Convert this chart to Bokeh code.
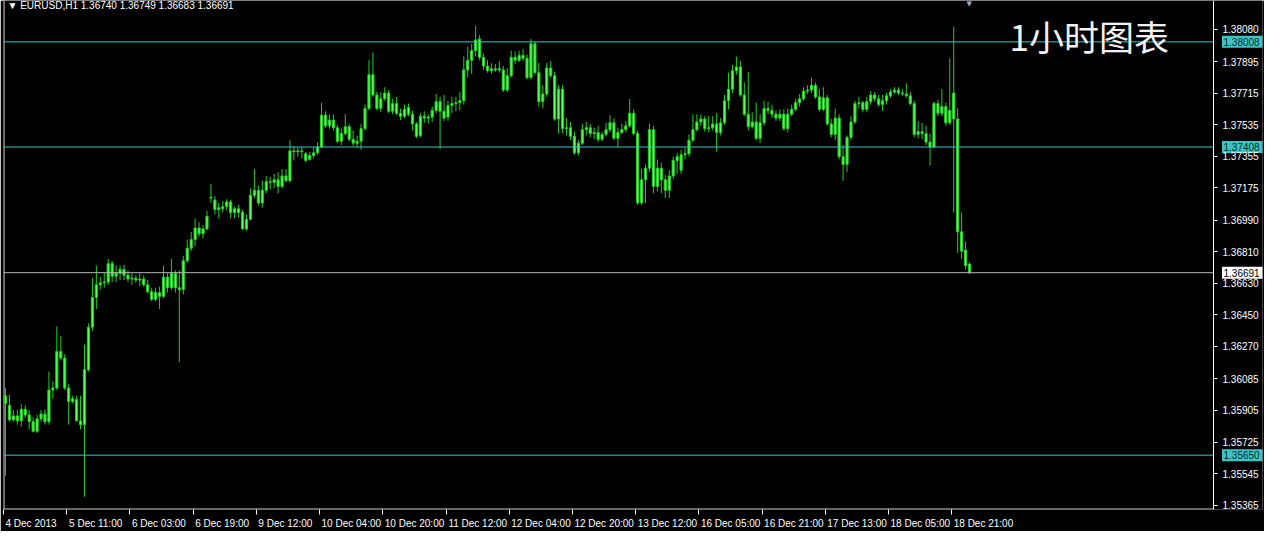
from bokeh.plotting import figure
from bokeh.models import (Label, FixedTicker, PrintfTickFormatter, ColumnDataSource,
                          LinearAxis)
from bokeh.core.properties import value
from bokeh.embed import file_html
from bokeh.resources import INLINE

# ---------------- data (EURUSD H1) ----------------
opens = [
    1.35945, 1.35934, 1.35852, 1.35874, 1.35846, 1.35912, 1.35879, 1.35841, 1.35786, 1.35857,
    1.35885, 1.35841, 1.36022, 1.36033, 1.36242, 1.36204, 1.36033, 1.35956, 1.35967, 1.35846,
    1.35824, 1.36138, 1.36380, 1.36550, 1.36622, 1.36633, 1.36638, 1.36743, 1.36671, 1.36688,
    1.36710, 1.36677, 1.36655, 1.36660, 1.36649, 1.36655, 1.36622, 1.36583, 1.36539, 1.36578,
    1.36556, 1.36666, 1.36605, 1.36688, 1.36605, 1.36594, 1.36759, 1.36831, 1.36880, 1.36946,
    1.36913, 1.36941, 1.37117, 1.37106, 1.37051, 1.37056, 1.37067, 1.37095, 1.37034, 1.37056,
    1.37034, 1.36941, 1.36996, 1.37133, 1.37161, 1.37089, 1.37161, 1.37210, 1.37205, 1.37221,
    1.37183, 1.37243, 1.37216, 1.37386, 1.37386, 1.37381, 1.37370, 1.37337, 1.37359, 1.37375,
    1.37408, 1.37590, 1.37529, 1.37562, 1.37518, 1.37441, 1.37485, 1.37524, 1.37452, 1.37430,
    1.37441, 1.37513, 1.37628, 1.37821, 1.37705, 1.37628, 1.37683, 1.37716, 1.37612, 1.37656,
    1.37601, 1.37584, 1.37634, 1.37595, 1.37540, 1.37474, 1.37584, 1.37573, 1.37579, 1.37617,
    1.37667, 1.37612, 1.37579, 1.37645, 1.37656, 1.37661, 1.37672, 1.37848, 1.37903, 1.37958,
    1.38024, 1.37920, 1.37870, 1.37843, 1.37854, 1.37848, 1.37848, 1.37733, 1.37815, 1.37920,
    1.37903, 1.37931, 1.37914, 1.37804, 1.37997, 1.37832, 1.37667, 1.37711, 1.37859, 1.37815,
    1.37568, 1.37738, 1.37513, 1.37518, 1.37469, 1.37375, 1.37430, 1.37507, 1.37518, 1.37485,
    1.37491, 1.37452, 1.37480, 1.37507, 1.37546, 1.37458, 1.37491, 1.37507, 1.37529, 1.37601,
    1.37485, 1.37089, 1.37221, 1.37287, 1.37507, 1.37183, 1.37287, 1.37221, 1.37161, 1.37243,
    1.37331, 1.37276, 1.37364, 1.37370, 1.37447, 1.37507, 1.37551, 1.37568, 1.37513, 1.37518,
    1.37540, 1.37491, 1.37546, 1.37672, 1.37738, 1.37843, 1.37865, 1.37705, 1.37595, 1.37524,
    1.37551, 1.37458, 1.37546, 1.37628, 1.37617, 1.37595, 1.37573, 1.37595, 1.37513, 1.37595,
    1.37623, 1.37661, 1.37683, 1.37727, 1.37733, 1.37760, 1.37694, 1.37623, 1.37689, 1.37540,
    1.37480, 1.37573, 1.37353, 1.37309, 1.37463, 1.37551, 1.37656, 1.37661, 1.37623, 1.37667,
    1.37705, 1.37683, 1.37650, 1.37672, 1.37700, 1.37722, 1.37733, 1.37716, 1.37711, 1.37700,
    1.37656, 1.37480, 1.37496, 1.37485, 1.37436, 1.37408, 1.37656, 1.37601, 1.37639, 1.37546,
    1.37716, 1.37568, 1.36924, 1.36820, 1.36740,
]
highs = [
    1.36033, 1.35995, 1.35907, 1.35907, 1.35940, 1.35934, 1.35907, 1.35868, 1.35879, 1.35907,
    1.35912, 1.36127, 1.36072, 1.36385, 1.36330, 1.36226, 1.36055, 1.35989, 1.35989, 1.35989,
    1.36281, 1.36402, 1.36660, 1.36732, 1.36666, 1.36693, 1.36770, 1.36759, 1.36732, 1.36732,
    1.36737, 1.36704, 1.36688, 1.36677, 1.36688, 1.36677, 1.36649, 1.36605, 1.36605, 1.36611,
    1.36732, 1.36688, 1.36770, 1.36704, 1.36704, 1.36787, 1.36880, 1.36924, 1.37001, 1.36979,
    1.36963, 1.37045, 1.37199, 1.37128, 1.37089, 1.37100, 1.37111, 1.37106, 1.37067, 1.37078,
    1.37051, 1.37023, 1.37172, 1.37282, 1.37188, 1.37216, 1.37243, 1.37238, 1.37254, 1.37265,
    1.37282, 1.37282, 1.37447, 1.37414, 1.37403, 1.37408, 1.37381, 1.37381, 1.37408, 1.37436,
    1.37661, 1.37612, 1.37595, 1.37595, 1.37535, 1.37513, 1.37595, 1.37540, 1.37502, 1.37474,
    1.37540, 1.37650, 1.37903, 1.37947, 1.37722, 1.37722, 1.37749, 1.37733, 1.37683, 1.37694,
    1.37628, 1.37650, 1.37656, 1.37617, 1.37551, 1.37601, 1.37612, 1.37595, 1.37639, 1.37711,
    1.37694, 1.37705, 1.37672, 1.37694, 1.37694, 1.37722, 1.37925, 1.37980, 1.37997, 1.38101,
    1.38046, 1.37942, 1.37903, 1.37887, 1.37881, 1.37898, 1.37870, 1.37859, 1.37958, 1.37953,
    1.37958, 1.37969, 1.37936, 1.38024, 1.38008, 1.37887, 1.37760, 1.37887, 1.37898, 1.37837,
    1.37760, 1.37760, 1.37573, 1.37551, 1.37496, 1.37447, 1.37540, 1.37551, 1.37540, 1.37518,
    1.37529, 1.37496, 1.37546, 1.37590, 1.37573, 1.37518, 1.37540, 1.37557, 1.37683, 1.37623,
    1.37502, 1.37282, 1.37309, 1.37540, 1.37529, 1.37337, 1.37320, 1.37249, 1.37276, 1.37353,
    1.37375, 1.37392, 1.37403, 1.37480, 1.37595, 1.37595, 1.37595, 1.37584, 1.37584, 1.37584,
    1.37601, 1.37573, 1.37705, 1.37832, 1.37876, 1.37925, 1.37898, 1.37777, 1.37837, 1.37606,
    1.37661, 1.37595, 1.37672, 1.37667, 1.37650, 1.37617, 1.37623, 1.37623, 1.37628, 1.37650,
    1.37683, 1.37711, 1.37749, 1.37760, 1.37804, 1.37777, 1.37738, 1.37749, 1.37705, 1.37568,
    1.37628, 1.37595, 1.37419, 1.37474, 1.37584, 1.37672, 1.37694, 1.37672, 1.37694, 1.37727,
    1.37722, 1.37705, 1.37705, 1.37716, 1.37738, 1.37749, 1.37749, 1.37738, 1.37771, 1.37722,
    1.37672, 1.37557, 1.37546, 1.37529, 1.37485, 1.37667, 1.37678, 1.37738, 1.37661, 1.37914,
    1.38096, 1.37628, 1.37034, 1.36869, 1.36749,
]
lows = [
    1.35533, 1.35841, 1.35841, 1.35824, 1.35813, 1.35863, 1.35797, 1.35780, 1.35775, 1.35841,
    1.35824, 1.35824, 1.35973, 1.36022, 1.36193, 1.36022, 1.35824, 1.35945, 1.35841, 1.35797,
    1.35412, 1.36127, 1.36358, 1.36484, 1.36594, 1.36605, 1.36622, 1.36638, 1.36638, 1.36649,
    1.36649, 1.36638, 1.36622, 1.36633, 1.36616, 1.36611, 1.36572, 1.36528, 1.36528, 1.36484,
    1.36545, 1.36578, 1.36594, 1.36578, 1.36182, 1.36567, 1.36748, 1.36814, 1.36842, 1.36897,
    1.36886, 1.36935, 1.37089, 1.37023, 1.37001, 1.37034, 1.37045, 1.37001, 1.37001, 1.37007,
    1.36935, 1.36930, 1.36990, 1.37117, 1.37073, 1.37062, 1.37144, 1.37166, 1.37172, 1.37144,
    1.37172, 1.37205, 1.37205, 1.37331, 1.37353, 1.37342, 1.37320, 1.37331, 1.37342, 1.37364,
    1.37403, 1.37518, 1.37513, 1.37502, 1.37430, 1.37419, 1.37474, 1.37441, 1.37414, 1.37408,
    1.37392, 1.37502, 1.37617, 1.37694, 1.37617, 1.37606, 1.37672, 1.37601, 1.37595, 1.37590,
    1.37562, 1.37573, 1.37584, 1.37502, 1.37458, 1.37463, 1.37546, 1.37540, 1.37551, 1.37601,
    1.37397, 1.37557, 1.37557, 1.37601, 1.37612, 1.37617, 1.37650, 1.37804, 1.37826, 1.37925,
    1.37903, 1.37848, 1.37832, 1.37826, 1.37837, 1.37832, 1.37722, 1.37722, 1.37804, 1.37881,
    1.37892, 1.37898, 1.37793, 1.37793, 1.37821, 1.37639, 1.37628, 1.37694, 1.37804, 1.37557,
    1.37485, 1.37485, 1.37474, 1.37447, 1.37364, 1.37359, 1.37419, 1.37474, 1.37463, 1.37452,
    1.37436, 1.37441, 1.37469, 1.37491, 1.37447, 1.37408, 1.37480, 1.37491, 1.37518, 1.37474,
    1.37078, 1.37078, 1.37089, 1.37265, 1.37144, 1.37155, 1.37144, 1.37117, 1.37117, 1.37227,
    1.37254, 1.37254, 1.37337, 1.37353, 1.37436, 1.37496, 1.37529, 1.37496, 1.37491, 1.37502,
    1.37381, 1.37474, 1.37535, 1.37623, 1.37716, 1.37821, 1.37694, 1.37584, 1.37502, 1.37513,
    1.37447, 1.37430, 1.37529, 1.37595, 1.37573, 1.37557, 1.37557, 1.37502, 1.37491, 1.37584,
    1.37612, 1.37639, 1.37672, 1.37711, 1.37716, 1.37683, 1.37612, 1.37612, 1.37529, 1.37463,
    1.37447, 1.37337, 1.37216, 1.37265, 1.37447, 1.37540, 1.37628, 1.37606, 1.37606, 1.37650,
    1.37667, 1.37639, 1.37612, 1.37650, 1.37689, 1.37711, 1.37705, 1.37700, 1.37689, 1.37645,
    1.37463, 1.37458, 1.37452, 1.37419, 1.37304, 1.37403, 1.37584, 1.37584, 1.37529, 1.37535,
    1.37034, 1.36803, 1.36770, 1.36710, 1.36683,
]
closes = [
    1.35989, 1.35852, 1.35874, 1.35846, 1.35912, 1.35879, 1.35841, 1.35786, 1.35857, 1.35885,
    1.35841, 1.36022, 1.36033, 1.36242, 1.36204, 1.36033, 1.35956, 1.35973, 1.35846, 1.35824,
    1.36138, 1.36380, 1.36550, 1.36622, 1.36633, 1.36638, 1.36743, 1.36671, 1.36688, 1.36710,
    1.36677, 1.36655, 1.36660, 1.36649, 1.36655, 1.36622, 1.36583, 1.36539, 1.36578, 1.36556,
    1.36666, 1.36605, 1.36688, 1.36605, 1.36594, 1.36759, 1.36831, 1.36880, 1.36946, 1.36913,
    1.36941, 1.37012, 1.37122, 1.37051, 1.37062, 1.37067, 1.37095, 1.37034, 1.37056, 1.37034,
    1.36941, 1.36996, 1.37133, 1.37161, 1.37089, 1.37161, 1.37210, 1.37205, 1.37221, 1.37183,
    1.37243, 1.37216, 1.37386, 1.37381, 1.37381, 1.37386, 1.37331, 1.37359, 1.37375, 1.37408,
    1.37590, 1.37529, 1.37562, 1.37518, 1.37441, 1.37485, 1.37524, 1.37452, 1.37430, 1.37441,
    1.37513, 1.37628, 1.37821, 1.37705, 1.37628, 1.37683, 1.37716, 1.37612, 1.37656, 1.37601,
    1.37584, 1.37623, 1.37595, 1.37540, 1.37469, 1.37584, 1.37573, 1.37579, 1.37617, 1.37667,
    1.37612, 1.37573, 1.37645, 1.37656, 1.37661, 1.37672, 1.37848, 1.37903, 1.37958, 1.38019,
    1.37920, 1.37870, 1.37843, 1.37854, 1.37848, 1.37854, 1.37733, 1.37815, 1.37920, 1.37903,
    1.37931, 1.37914, 1.37804, 1.37997, 1.37832, 1.37667, 1.37711, 1.37859, 1.37815, 1.37568,
    1.37738, 1.37513, 1.37518, 1.37469, 1.37375, 1.37430, 1.37507, 1.37518, 1.37485, 1.37491,
    1.37452, 1.37480, 1.37507, 1.37546, 1.37458, 1.37491, 1.37507, 1.37529, 1.37601, 1.37485,
    1.37089, 1.37221, 1.37287, 1.37507, 1.37183, 1.37287, 1.37221, 1.37161, 1.37243, 1.37331,
    1.37353, 1.37364, 1.37370, 1.37447, 1.37507, 1.37551, 1.37568, 1.37513, 1.37518, 1.37540,
    1.37491, 1.37546, 1.37672, 1.37738, 1.37843, 1.37865, 1.37705, 1.37595, 1.37524, 1.37551,
    1.37458, 1.37546, 1.37628, 1.37617, 1.37595, 1.37573, 1.37595, 1.37513, 1.37595, 1.37623,
    1.37661, 1.37683, 1.37727, 1.37733, 1.37760, 1.37694, 1.37623, 1.37689, 1.37540, 1.37480,
    1.37573, 1.37353, 1.37309, 1.37463, 1.37551, 1.37656, 1.37661, 1.37623, 1.37667, 1.37705,
    1.37683, 1.37650, 1.37672, 1.37700, 1.37722, 1.37733, 1.37716, 1.37711, 1.37700, 1.37656,
    1.37480, 1.37496, 1.37485, 1.37436, 1.37408, 1.37656, 1.37601, 1.37639, 1.37546, 1.37617,
    1.37568, 1.36924, 1.36814, 1.36732, 1.36691,
]

time_tick_bars = [0, 16, 32, 48, 64, 80, 96, 112, 128, 144, 160, 176, 192, 208, 224, 240]
time_tick_labels = [
    "4 Dec 2013", "5 Dec 11:00", "6 Dec 03:00", "6 Dec 19:00", "9 Dec 12:00",
    "10 Dec 04:00", "10 Dec 20:00", "11 Dec 12:00", "12 Dec 04:00", "12 Dec 20:00",
    "13 Dec 12:00", "16 Dec 05:00", "16 Dec 21:00", "17 Dec 13:00", "18 Dec 05:00",
    "18 Dec 21:00",
]
price_ticks = [1.38080, 1.37895, 1.37715, 1.37535, 1.37355, 1.37175, 1.36990, 1.36810,
               1.36630, 1.36450, 1.36270, 1.36085, 1.35905, 1.35725, 1.35545, 1.35365]
level_lines = [1.38008, 1.37408, 1.35650]
last_price = 1.36691
header_text = "\u25bc EURUSD,H1  1.36740 1.36749 1.36683 1.36691"
chart_note = "1小时图表"

# ---------------- layout ----------------
W, H = 1264, 531
LB, RB, BB = 3, 2, 19
CHART_W = 1210                 # width of the candle area, px
AXIS_W = W - LB - RB - CHART_W  # price-scale area inside the frame, px
FH = H - BB
X0, X1 = -0.5, 305.75
ppb = CHART_W / (X1 - X0)
XR = X1 + AXIS_W / ppb
Y0, Y1 = 1.35340, 1.38244
ypp = (Y1 - Y0) / FH
FONT = "Liberation Sans"
GREEN_LINE = "#1fd01f"
GREEN_FILL = "#5cff5c"
CYAN = "#3cc4c4"
BORDER = "#d8d8d8"

p = figure(width=W, height=H, x_range=(X0, XR), y_range=(Y0, Y1),
           output_backend="svg", toolbar_location=None, y_axis_location=None,
           background_fill_color="black", border_fill_color="black",
           min_border_left=LB, min_border_right=RB, min_border_bottom=BB, min_border_top=0,
           outline_line_color=None)
p.xgrid.visible = False
p.ygrid.visible = False

# chart window border: left edge and bottom edge of the candle area
p.segment(x0=[X0 + 0.5 / ppb, X0], x1=[X0 + 0.5 / ppb, X1],
          y0=[Y0, Y0 + 0.5 * ypp], y1=[Y1, Y0 + 0.5 * ypp],
          line_color=BORDER, line_width=1)

n = len(opens)
src = ColumnDataSource(dict(
    x=list(range(n)), o=opens, h=highs, l=lows, c=closes,
    top=[max(a, b) for a, b in zip(opens, closes)],
    bottom=[min(a, b) for a, b in zip(opens, closes)],
))
p.segment(x0="x", y0="l", x1="x", y1="h", source=src, line_color=GREEN_LINE, line_width=1)
p.vbar(x="x", width=0.55, top="top", bottom="bottom", source=src,
       fill_color=GREEN_FILL, line_color=GREEN_LINE, line_width=1)

# horizontal level lines (end at the price scale)
p.segment(x0=[X0] * len(level_lines), x1=[X1] * len(level_lines), y0=level_lines,
          y1=level_lines, line_color=CYAN, line_width=1)
p.segment(x0=[X0], x1=[X1], y0=[last_price], y1=[last_price], line_color="#b8b8b8",
          line_width=1)

# price scale on the right edge of the candle area
ya = LinearAxis(fixed_location=X1, ticker=FixedTicker(ticks=price_ticks),
                formatter=PrintfTickFormatter(format="%.5f"))
ya.axis_line_color = "white"
ya.major_tick_line_color = "white"
ya.major_tick_in = 0
ya.major_tick_out = 4
ya.minor_tick_line_color = None
ya.major_label_standoff = 5
ya.major_label_text_color = "white"
ya.major_label_text_font = FONT
ya.major_label_text_font_size = "10px"
p.add_layout(ya, "right")

# price tags for the level lines and the last price
tag_text = [f"{v:.5f}" for v in level_lines]
p.rect(x=[X1 + 29 / ppb] * len(level_lines), y=level_lines, width=41, height=12,
       width_units="screen", height_units="screen", fill_color=CYAN, line_color=None)
p.text(x=[X1 + 10 / ppb] * len(level_lines), y=level_lines, text=tag_text,
       text_font=value(FONT), text_font_size="10px", text_color="#0a2a2a",
       text_baseline="middle", text_align="left")
p.rect(x=[X1 + 29 / ppb], y=[last_price], width=41, height=12,
       width_units="screen", height_units="screen", fill_color="white", line_color=None)
p.text(x=[X1 + 10 / ppb], y=[last_price], text=[f"{last_price:.5f}"],
       text_font=value(FONT), text_font_size="10px", text_color="black",
       text_baseline="middle", text_align="left")

# x axis: tick marks as minor ticks, labels placed to the right of each tick
CW = {" ": 2.78, ":": 2.78, "D": 7.22, "e": 5.56, "c": 5.0}
def text_w(s):
    return sum(CW.get(ch, 5.56) for ch in s)
label_pos = [b - 0.5 + (2 + text_w(t) / 2) / ppb for b, t in zip(time_tick_bars, time_tick_labels)]
xa = p.xaxis[0]
xa.ticker = FixedTicker(ticks=label_pos, minor_ticks=[b - 0.5 for b in time_tick_bars])
xa.major_label_overrides = {pos: t for pos, t in zip(label_pos, time_tick_labels)}
xa.axis_line_color = None
xa.major_tick_line_color = None
xa.major_tick_in = 0
xa.major_tick_out = 0
xa.minor_tick_line_color = "white"
xa.minor_tick_in = 0
xa.minor_tick_out = 5
xa.major_label_standoff = 3
xa.major_label_text_color = "white"
xa.major_label_text_font = FONT
xa.major_label_text_font_size = "10px"

# header and note
p.add_layout(Label(x=4, y=FH - 2, x_units="screen", y_units="screen", text=header_text,
                   text_color="white", text_font=FONT, text_font_size="10px",
                   text_baseline="top", text_align="left"))
p.add_layout(Label(x=1006, y=FH - 38, x_units="screen", y_units="screen", text=chart_note,
                   text_color="#f2f2f2", text_font="Noto Sans CJK SC",
                   text_font_size="35px", text_baseline="middle", text_align="left"))
p.add_layout(Label(x=963, y=FH - 2, x_units="screen", y_units="screen", text="\u25bc",
                   text_color="#a8a8b8", text_font="DejaVu Sans", text_font_size="7px",
                   text_baseline="top", text_align="left"))

open("out.html", "w").write(file_html(p, INLINE))
